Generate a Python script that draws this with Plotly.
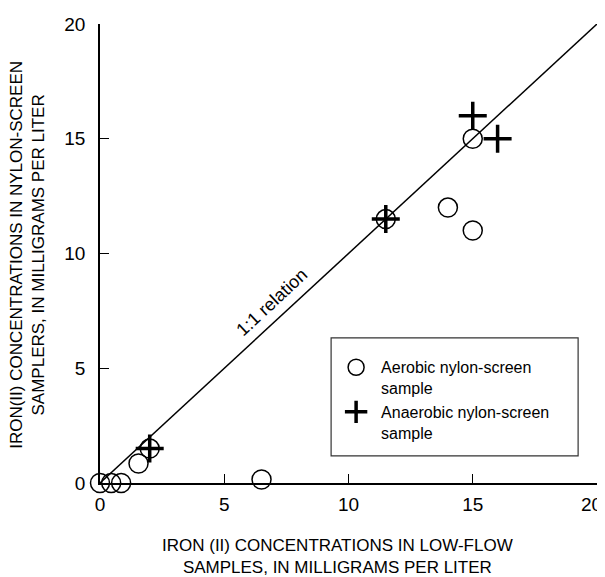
import plotly.graph_objects as go

aero_x = [0, 0.45, 0.85, 1.55, 2.0, 6.5, 11.5, 14.0, 15.0, 15.0]
aero_y = [0, 0, 0, 0.85, 1.5, 0.15, 11.5, 12.0, 11.0, 15.0]
anaero_x = [2.0, 11.5, 15.0, 16.0]
anaero_y = [1.5, 11.5, 16.0, 15.0]
line_x = [0, 20]
line_y = [0, 20]
ticks = [0, 5, 10, 15, 20]
tick_labels = ["0", "5", "10", "15", "20"]

FONT = "Liberation Sans, Arial, sans-serif"

fig = go.Figure()
fig.add_trace(go.Scatter(x=aero_x, y=aero_y, mode="markers", name="Aerobic nylon-screen<br>sample",
                         marker=dict(symbol="circle-open", size=19, color="black", line=dict(width=1.5)),
                         cliponaxis=False))
fig.add_trace(go.Scatter(x=anaero_x, y=anaero_y, mode="markers", name="Anaerobic nylon-screen<br>sample",
                         marker=dict(symbol="cross-thin", size=20, color="black", line=dict(width=3.5, color="black")),
                         cliponaxis=False))
fig.add_trace(go.Scatter(x=line_x, y=line_y, mode="lines", showlegend=False,
                         line=dict(color="black", width=1.5), cliponaxis=False))

fig.add_annotation(x=6.92, y=7.9, text="1:1 relation", showarrow=False, textangle=-43,
                   font=dict(family=FONT, size=18, color="black"))

# axis titles
fig.add_annotation(xref="paper", yref="paper", x=0.477, y=-0.160, xanchor="center", yanchor="middle",
                   text="IRON (II) CONCENTRATIONS IN LOW-FLOW<br>SAMPLES, IN MILLIGRAMS PER LITER",
                   showarrow=False, font=dict(family=FONT, size=17, color="black"))
fig.add_annotation(xref="paper", yref="paper", x=-0.145, y=0.497, xanchor="center", yanchor="middle",
                   text="IRON(II) CONCENTRATIONS IN NYLON-SCREEN<br>SAMPLERS, IN MILLIGRAMS PER LITER",
                   textangle=-90, showarrow=False, font=dict(family=FONT, size=17, color="black"))

# last x tick label, nudged left so it stays inside the window
fig.add_annotation(x=ticks[-1], xref="x", y=0, yref="paper", text=tick_labels[-1], showarrow=False,
                   xanchor="right", yanchor="middle", xshift=7, yshift=-21,
                   font=dict(family=FONT, size=19, color="black"))

# legend frame
fig.add_shape(type="rect", xref="paper", yref="paper", x0=0.465, x1=0.962, y0=0.059, y1=0.316,
              line=dict(color="#333333", width=1.2), fillcolor="rgba(0,0,0,0)", layer="above")

axis_common = dict(range=[0, 20], tickvals=ticks, ticks="inside", ticklen=9, tickwidth=1.3,
                   tickcolor="black", showline=True, linecolor="black", linewidth=1.5,
                   showgrid=False, zeroline=False, automargin=False,
                   tickfont=dict(family=FONT, size=19, color="black"))
fig.update_xaxes(**axis_common, ticktext=tick_labels[:-1] + [""], ticklabelstandoff=3)
fig.update_yaxes(**axis_common, ticktext=tick_labels, ticklabelstandoff=9)

# page body has an 8px margin, so the figure is sized to fit the 605x577 window
fig.update_layout(
    width=597, height=569,
    margin=dict(l=92, r=8, t=16, b=94),
    plot_bgcolor="white", paper_bgcolor="white",
    showlegend=True,
    legend=dict(x=0.465, y=0.289, xanchor="left", yanchor="top", valign="top",
                borderwidth=0, bgcolor="rgba(0,0,0,0)",
                font=dict(family=FONT, size=16, color="black"),
                itemwidth=40, tracegroupgap=17),
)
fig.write_html("out.html")
